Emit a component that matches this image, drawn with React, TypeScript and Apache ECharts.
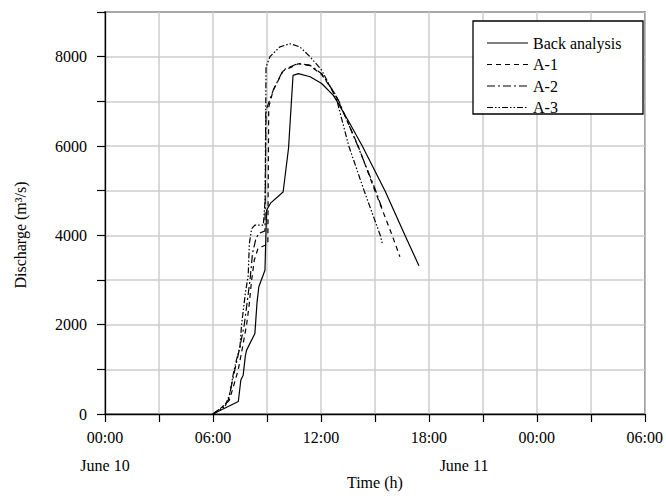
import React, { useEffect, useRef } from "react";
import * as echarts from "echarts";

// Time in hours from 00:00 June 10; discharge in m3/s
const backAnalysis: [number, number][] = [
  [6, 0], [7.41, 280], [7.55, 760], [7.68, 870], [7.8, 1300], [7.87, 1430], [8.33, 1800],
  [8.45, 2500], [8.55, 2850], [8.89, 3220], [8.98, 4560], [9.2, 4720], [9.9, 4970],
  [10.2, 5950], [10.45, 7580], [10.75, 7620], [11.4, 7550], [12.04, 7400], [12.68, 7140],
  [12.9, 7000], [13.6, 6510], [14.3, 6000], [15.56, 5000], [16.67, 4000], [17.45, 3320],
];
const caseA1: [number, number][] = [
  [6, 0], [6.5, 150], [6.9, 300], [7.2, 700], [7.41, 1000], [7.6, 1400], [7.87, 2000],
  [8.0, 2400], [8.15, 3000], [8.3, 3450], [8.5, 3700], [8.8, 3760], [9.05, 3800],
  [9.1, 6870], [9.35, 7250], [9.9, 7680], [10.74, 7840], [11.39, 7800], [12.04, 7600],
  [12.78, 7170], [12.98, 7000], [14.07, 6000], [15.0, 5000], [15.96, 4000], [16.39, 3520],
];
const caseA2: [number, number][] = [
  [6, 0], [6.5, 150], [6.85, 300], [7.22, 1000], [7.5, 1500], [7.74, 2000], [7.9, 2500],
  [8.06, 3000], [8.2, 3600], [8.4, 3950], [8.6, 4050], [8.89, 4100], [8.95, 6800],
  [9.35, 7250], [9.9, 7700], [10.74, 7850], [11.39, 7810], [12.04, 7620], [12.78, 7170],
  [13.0, 7000], [14.0, 6050], [15.0, 5050], [15.4, 4600],
];
const caseA3: [number, number][] = [
  [6, 0], [6.3, 80], [6.67, 160], [6.94, 460], [7.13, 900], [7.3, 1200], [7.5, 1500],
  [7.59, 2000], [7.8, 2700], [7.96, 3100], [8.02, 3800], [8.15, 4150], [8.33, 4230],
  [8.8, 4230], [8.9, 4790], [8.95, 7770], [9.17, 8000], [9.72, 8220], [10.28, 8290],
  [10.83, 8220], [11.39, 8000], [12.04, 7700], [12.68, 7200], [12.9, 7000], [13.55, 6000],
  [14.4, 5000], [15.3, 4000], [15.42, 3800],
];

const seriesNames = ["Back analysis", "A-1", "A-2", "A-3"];
const seriesData = [backAnalysis, caseA1, caseA2, caseA3];
const dashTypes: (string | number[])[] = ["solid", [5, 4], [8, 3, 2, 3], [6, 2, 1.5, 2, 1.5, 2]];
const dateLabels = ["June 10", "June 11"];

const FONT = "Liberation Serif";

export default function App() {
  const ref = useRef<HTMLDivElement>(null);
  useEffect(() => {
    if (!ref.current) return;
    const chart = echarts.init(ref.current, undefined, { renderer: "svg" });
    const legendX = 473, legendY = 21, rowH = 21.5;
    const legendItems: any[] = [
      {
        type: "rect",
        shape: { x: legendX, y: legendY, width: 170, height: 93 },
        style: { fill: "#fff", stroke: "#000", lineWidth: 1.3 },
        z: 10,
      },
    ];
    seriesNames.forEach((n, i) => {
      const y = legendY + 22 + i * rowH;
      const dt = dashTypes[i];
      legendItems.push({
        type: "line",
        z: 11,
        shape: { x1: legendX + 14, y1: y, x2: legendX + 55, y2: y },
        style: { stroke: "#000", lineWidth: 1.2, lineDash: typeof dt === "string" ? null : dt },
      });
      legendItems.push({
        type: "text",
        z: 11,
        x: legendX + 60,
        y,
        style: { text: n, fill: "#000", font: `16px '${FONT}'`, align: "left", verticalAlign: "middle" },
      });
    });

    chart.setOption({
      animation: false,
      backgroundColor: "#fff",
      grid: { left: 105, right: 21, top: 12, bottom: 82, show: true, borderColor: "#000", borderWidth: 1.3, containLabel: false },
      xAxis: {
        type: "value",
        min: 0,
        max: 30,
        interval: 3,
        name: "Time (h)",
        nameLocation: "middle",
        nameGap: 60,
        nameTextStyle: { fontFamily: FONT, fontSize: 16, color: "#000" },
        axisLine: { show: true, onZero: false, lineStyle: { color: "#000", width: 1.3 } },
        axisTick: { show: true, inside: false, length: 8, lineStyle: { color: "#000", width: 1.2 } },
        axisLabel: {
          margin: 15,
          fontFamily: FONT,
          fontSize: 16,
          color: "#000",
          formatter: (v: number) => {
            if (v % 6 !== 0) return "";
            const h = v % 24;
            return (h < 10 ? "0" : "") + h + ":00";
          },
        },
        splitLine: { show: true, lineStyle: { color: "#cccccc", width: 1.5 } },
      },
      yAxis: {
        type: "value",
        min: 0,
        max: 9000,
        interval: 1000,
        axisLine: { show: true, onZero: false, lineStyle: { color: "#000", width: 1.3 } },
        axisTick: { show: true, inside: false, length: 8, lineStyle: { color: "#000", width: 1.2 } },
        axisLabel: {
          margin: 18,
          fontFamily: FONT,
          fontSize: 16,
          color: "#000",
          formatter: (v: number) => (v % 2000 === 0 ? String(v) : ""),
        },
        splitLine: { show: true, lineStyle: { color: "#cccccc", width: 1.5 } },
      },
      series: seriesNames.map((n, i) => ({
        name: n,
        type: "line",
        data: seriesData[i],
        symbol: "none",
        z: i === 0 ? 5 : 3,
        lineStyle: { color: "#000", width: 1.2, type: dashTypes[i] },
      })),
      graphic: [
        {
          type: "text",
          x: 20,
          y: 235,
          rotation: Math.PI / 2,
          style: { text: "Discharge (m³/s)", fill: "#000", font: `16px '${FONT}'`, align: "center", verticalAlign: "middle" },
        },
        {
          type: "text",
          x: 105,
          y: 465,
          style: { text: dateLabels[0], fill: "#000", font: `16px '${FONT}'`, align: "center", verticalAlign: "middle" },
        },
        {
          type: "text",
          x: 464,
          y: 465,
          style: { text: dateLabels[1], fill: "#000", font: `16px '${FONT}'`, align: "center", verticalAlign: "middle" },
        },
        ...legendItems,
      ],
    });
    return () => chart.dispose();
  }, []);
  return <div ref={ref} style={{ position: "absolute", left: 0, top: 0, width: 666, height: 496 }} />;
}
